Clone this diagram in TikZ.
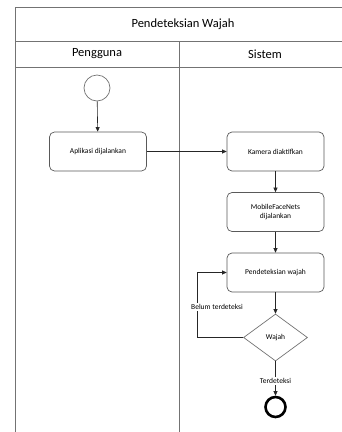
\documentclass[tikz,border=0pt]{standalone}
\usepackage{fontspec}
\setmainfont{Carlito}
\usetikzlibrary{shapes.geometric,arrows.meta}
\begin{document}
\begin{tikzpicture}[x=1pt,y=-1pt,
  frame/.style={draw=black!55,line width=0.8pt},
  actbox/.style={draw=black!65,line width=0.7pt,rounded corners=5pt,minimum width=97pt,minimum height=39pt,align=center,font=\fontsize{7.5}{9}\selectfont,inner sep=2pt},
  decision/.style={draw=black!55,line width=0.7pt,diamond,minimum width=64pt,minimum height=47pt,inner sep=0pt,font=\fontsize{7.5}{9}\selectfont},
  flow/.style={draw=black!85,line width=0.6pt,-{Triangle[length=4.5pt,width=4pt]}},
  lbl/.style={fill=white,inner sep=1pt,font=\fontsize{7.5}{9}\selectfont},
  head/.style={font=\fontsize{12.5}{14}\selectfont}]
\useasboundingbox (0,0) rectangle (342,432);
% frame
\draw[frame] (342,7) -- (15.5,7) -- (15.5,432);
\draw[frame] (15.5,41) -- (342,41);
\draw[frame] (15.5,67.5) -- (342,67.5);
\draw[frame] (179,41) -- (179,432);
\node[head] (title) at (183,24) {Pendeteksian Wajah};
\node[head] (lane1) at (97,54) {Pengguna};
\node[head] (lane2) at (265,54) {Sistem};
% nodes
\node[circle,draw=black!55,line width=0.7pt,minimum size=26pt,inner sep=0pt] (start) at (97,88) {};
\node[actbox] (app) at (98,151.5) {Aplikasi dijalankan};
\node[actbox] (cam) at (275.5,151.5) {Kamera diaktifkan};
\node[actbox] (mfn) at (275.5,212) {MobileFaceNets\\dijalankan};
\node[actbox] (det) at (275.5,272.5) {Pendeteksian wajah};
\node[decision] (dec) at (275.5,337.5) {Wajah};
\node[circle,draw=black,line width=2.6pt,minimum size=20pt,inner sep=0pt] (end) at (275.5,407) {};
\coordinate (lp) at (197,337.5);
% connectors
\draw[flow] (start) -- (app);
\draw[flow] (app) -- (cam);
\draw[flow] (cam) -- (mfn);
\draw[flow] (mfn) -- (det);
\draw[flow] (det) -- (dec);
\draw[flow] (dec.west) -- (lp) |- (det.west);
\draw[flow] (dec.south) -- (end.north);
\node[lbl] (l1) at (217,307) {Belum terdeteksi};
\node[lbl] (l2) at (275.5,381) {Terdeteksi};
\end{tikzpicture}
\end{document}
